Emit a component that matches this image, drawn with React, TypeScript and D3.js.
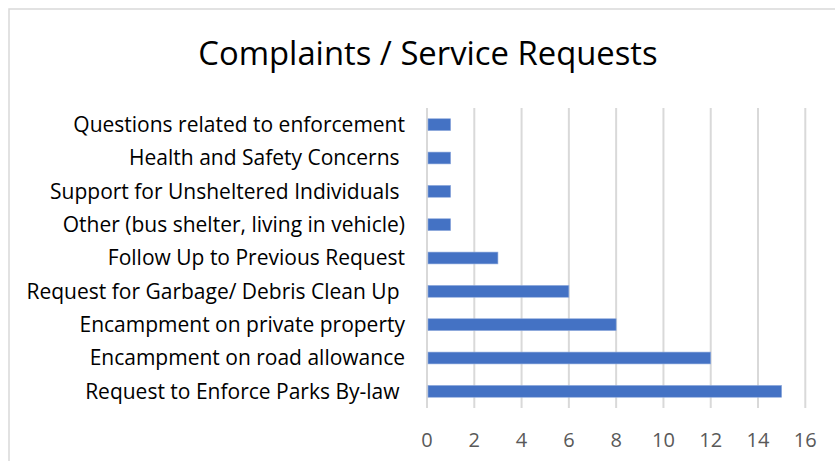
import React from "react";
import * as d3 from "d3";

const categories = [
  "Questions related to enforcement",
  "Health and Safety Concerns ",
  "Support for Unsheltered Individuals ",
  "Other (bus shelter, living in vehicle)",
  "Follow Up to Previous Request",
  "Request for Garbage/ Debris Clean Up ",
  "Encampment on private property",
  "Encampment on road allowance",
  "Request to Enforce Parks By-law ",
];
const values = [1, 1, 1, 1, 3, 6, 8, 12, 15];
const xTicks = [0, 2, 4, 6, 8, 10, 12, 14, 16];
const title = "Complaints / Service Requests";

const W = 835;
const H = 461;
const FONT = "'Open Sans', sans-serif";

export default function App() {
  const x = d3.scaleLinear().domain([0, 16]).range([427, 805.3]);
  const y = d3
    .scaleBand<string>()
    .domain(categories)
    .range([108, 408])
    .paddingInner(0.645)
    .paddingOuter(0.3225);

  return (
    <svg
      width={W}
      height={H}
      style={{ position: "absolute", left: 0, top: 0, background: "#fff" }}
    >
      <rect x={0} y={0} width={W} height={H} fill="#fff" />
      <rect
        x={9}
        y={9}
        width={W + 20}
        height={H + 20}
        fill="none"
        stroke="#d9d9d9"
        strokeWidth={1.5}
      />
      <text
        x={428}
        y={65}
        textAnchor="middle"
        fontFamily={FONT}
        fontSize={32.8}
        fill="#000"
      >
        {title}
      </text>
      {xTicks.map((t) => (
        <line
          key={"g" + t}
          x1={x(t)}
          x2={x(t)}
          y1={108}
          y2={408}
          stroke="#d9d9d9"
          strokeWidth={2}
        />
      ))}
      {categories.map((c, i) => (
        <rect
          key={"b" + c}
          x={x(0) + 1}
          y={y(c)!}
          width={x(values[i]) - x(0) - 1}
          height={y.bandwidth()}
          fill="#4472c4"
          stroke="#8faadc"
          strokeWidth={0.6}
        />
      ))}
      {categories.map((c) => (
        <text
          key={"l" + c}
          x={405}
          y={y(c)! + y.bandwidth() / 2}
          dy="0.35em"
          textAnchor="end"
          fontFamily={FONT}
          fontSize={21}
          fill="#000"
          style={{ whiteSpace: "pre" }}
        >
          {c}
        </text>
      ))}
      {xTicks.map((t) => (
        <text
          key={"t" + t}
          x={x(t)}
          y={447}
          textAnchor="middle"
          fontFamily={FONT}
          fontSize={20}
          fill="#595959"
        >
          {t}
        </text>
      ))}
    </svg>
  );
}
